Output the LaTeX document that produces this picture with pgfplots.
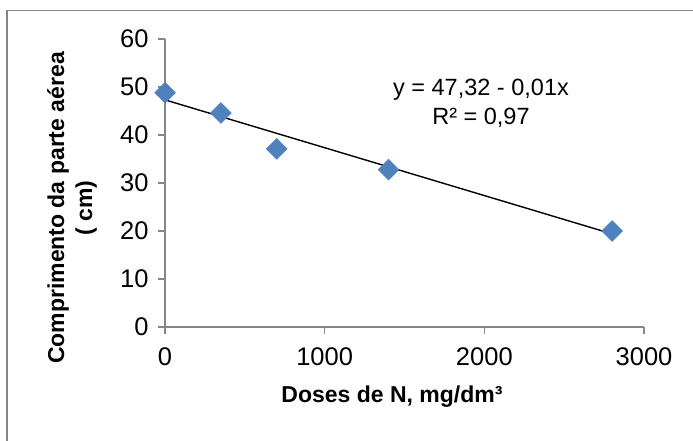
\documentclass[border=0pt]{standalone}
\usepackage{fontspec}
\setmainfont{Liberation Sans}
\usepackage{pgfplots}
\pgfplotsset{compat=1.18}
\definecolor{xlblue}{HTML}{4F81BD}
\definecolor{xlgray}{HTML}{868686}
\begin{document}
\begin{tikzpicture}[x=1bp,y=1bp]
\useasboundingbox (0,0) rectangle (693,441);
\draw[xlgray, line width=1.5bp] (7,0) -- (7,430.5) -- (693,430.5);
\begin{axis}[
  at={(165bp,114bp)}, anchor=south west,
  scale only axis, width=479bp, height=288bp,
  xmin=0, xmax=3000, ymin=0, ymax=60,
  xtick={0,1000,2000,3000}, ytick={0,10,...,60},
  axis lines*=left,
  axis line style={xlgray, line width=1.2bp},
  tick style={xlgray, line width=1.2bp},
  tick align=outside, major tick length=7bp,
  scaled ticks=false,
  /pgf/number format/1000 sep={},
  /pgf/number format/assume math mode=true,
  tick label style={font=\fontsize{25.5bp}{30bp}\selectfont, black},
  xticklabel style={yshift=-10bp},
  yticklabel style={xshift=-6bp},
  clip=false,
]
\addplot[only marks, mark=square*, mark size=7.4bp,
  mark options={rotate=45, fill=xlblue, draw=xlblue}]
  coordinates {(0,48.8) (350,44.6) (700,37.1) (1400,32.8) (2800,20.0)};
% linear trend line
\addplot[black, line width=1.4bp, mark=none] coordinates {(0,47.32) (2800,19.4)};
\node[align=center, font=\fontsize{23.5bp}{29bp}\selectfont] at (axis cs:1979,46.5)
  {y = 47,32 - 0,01x\\R² = 0,97};
\end{axis}
\node[rotate=90, align=center, font=\bfseries\fontsize{23bp}{28bp}\selectfont] at (72,233)
  {Comprimento da parte aérea\\( cm)};
\node[font=\bfseries\fontsize{23bp}{28bp}\selectfont] at (392,44) {Doses de N, mg/dm³};
\end{tikzpicture}
\end{document}
